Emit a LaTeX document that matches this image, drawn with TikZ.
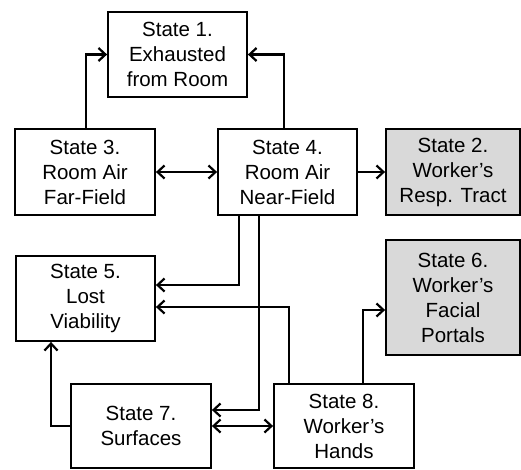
\documentclass[tikz,border=0pt]{standalone}
\usepackage{fontspec}
\setmainfont{Liberation Sans}
\usetikzlibrary{arrows.meta}
\definecolor{boxgray}{RGB}{217,217,217}
\tikzset{
  stbox/.style={draw=black, line width=1.8pt, align=center, inner sep=0pt,
    font=\fontsize{20.5}{25}\selectfont, fill=white},
  graybox/.style={stbox, fill=boxgray},
  tip/.tip={Straight Barb[length=7pt,width=13pt,line width=2.2pt]},
  arr/.style={line width=2.2pt, -tip},
  darr/.style={line width=2.2pt, tip-tip}
}
\begin{document}
\begin{tikzpicture}[x=1pt,y=-1pt]
\useasboundingbox (0,0) rectangle (521,469);
\node[stbox, minimum width=139pt, minimum height=85pt] (s1) at (177.5,54.5) {State 1.\\Exhausted\\from Room};
\node[stbox, minimum width=140pt, minimum height=86pt] (s3) at (85,172) {State 3.\\Room Air\\Far-Field};
\node[stbox, minimum width=139pt, minimum height=86pt] (s4) at (287.5,172) {State 4.\\Room Air\\Near-Field};
\node[graybox, minimum width=134pt, minimum height=86pt] (s2) at (453,172) {State 2.\\Worker’s\\Resp. Tract};
\node[stbox, minimum width=139pt, minimum height=85pt] (s5) at (85.5,298.5) {State 5.\\Lost\\Viability};
\node[graybox, minimum width=134pt, minimum height=115pt] (s6) at (453,297.5) {State 6.\\Worker’s\\Facial\\Portals};
\node[stbox, minimum width=140pt, minimum height=84pt] (s7) at (141,426) {State 7.\\Surfaces};
\node[stbox, minimum width=140pt, minimum height=84pt] (s8) at (344,426) {State 8.\\Worker’s\\Hands};

\draw[arr] ([xshift=1pt]s3.north) |- (s1.west);
\draw[arr] ([xshift=-3.5pt]s4.north) |- (s1.east);
\draw[darr] (s3) -- (s4);
\draw[arr] (s4) -- (s2);
\draw[arr] ([xshift=-48.5pt]s4.south) |- ([yshift=13.5pt]s5.east);
\draw[arr] ([xshift=-28.5pt]s4.south) |- ([yshift=16pt]s7.east);
\draw[arr] ([xshift=-55pt]s8.north) |- ([yshift=-8.5pt]s5.east);
\draw[arr] (s7.west) -| ([xshift=-34.5pt]s5.south);
\draw[darr] (s7) -- (s8);
\draw[arr] ([xshift=19pt]s8.north) |- ([yshift=-12.5pt]s6.west);
\end{tikzpicture}
\end{document}
